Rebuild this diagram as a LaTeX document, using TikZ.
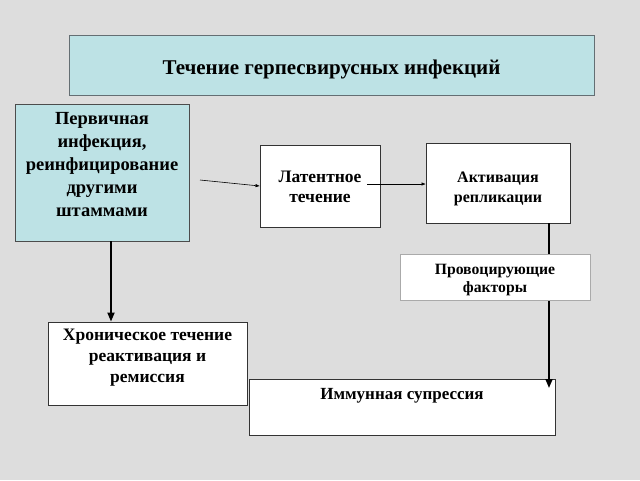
\documentclass[tikz,border=0pt]{standalone}
\usepackage{fontspec}
\setmainfont{Liberation Serif}
\usetikzlibrary{arrows.meta}
\definecolor{bg}{RGB}{221,221,221}
\definecolor{teal}{RGB}{189,226,229}
\definecolor{edgegray}{RGB}{100,110,115}
\definecolor{lightedge}{RGB}{170,170,170}
\tikzset{
  box/.style={draw=black!80, line width=0.9pt, fill=white, inner sep=0pt},
  tealbox/.style={box, fill=teal, draw=black!70},
  txt/.style={align=center, inner sep=0pt},
  thick arrow/.style={line width=1.8pt, -{Triangle[length=9pt,width=7pt]}},
  thin arrow/.style={line width=0.6pt, -{Triangle[length=4pt,width=3pt]}},
}
\begin{document}
\begin{tikzpicture}[x=1pt,y=-1pt]
\fill[bg] (0,0) rectangle (640,480);
\useasboundingbox (0,0) rectangle (640,480);

\node[tealbox, draw=edgegray, minimum width=525pt, minimum height=60pt] (title) at (331.5,65) {};
\node[txt, font=\bfseries\fontsize{21}{24}\selectfont] (titlet) at (331.5,69) {Течение герпесвирусных инфекций};

\node[tealbox, minimum width=174pt, minimum height=137pt] (prim) at (102,172.5) {};
\node[txt, font=\bfseries\fontsize{18.5}{23}\selectfont] (primt) at (102,165) {Первичная\\инфекция,\\реинфицирование\\другими\\штаммами};

\node[box, minimum width=120pt, minimum height=82pt] (lat) at (320,186) {};
\node[txt, font=\bfseries\fontsize{17.5}{20}\selectfont] (latt) at (320,187) {Латентное\\течение};

\node[box, minimum width=144pt, minimum height=80pt] (act) at (498,183) {};
\node[txt, font=\bfseries\fontsize{16}{20}\selectfont] (actt) at (498,189) {Активация\\репликации};

\node[box, minimum width=199pt, minimum height=83pt] (chr) at (147.5,363.5) {};
\node[txt, font=\bfseries\fontsize{17.5}{21}\selectfont] (chrt) at (147.5,358) {Хроническое течение\\реактивация и\\ремиссия};

\node[box, minimum width=306pt, minimum height=56pt] (imm) at (402,407) {};
\node[txt, font=\bfseries\fontsize{17}{20}\selectfont] (immt) at (402,396) {Иммунная супрессия};

\coordinate (s1) at (200,180);
\coordinate (s2) at (367,184);
\coordinate (e3) at (549,388);

\draw[thin arrow] (s1) -- (lat.west);
\draw[thin arrow] (s2) -- (act.west |- s2);
\draw[thick arrow] (prim.south -| 111,0) -- (chr.north -| 111,0);
\draw[thick arrow] (act.south -| e3) -- (e3);

\node[box, draw=lightedge, line width=0.7pt, minimum width=190pt, minimum height=46pt] (prov) at (495,277) {};
\node[txt, font=\bfseries\fontsize{15.7}{18}\selectfont] (provt) at (495,280) {Провоцирующие\\факторы};
\end{tikzpicture}
\end{document}
